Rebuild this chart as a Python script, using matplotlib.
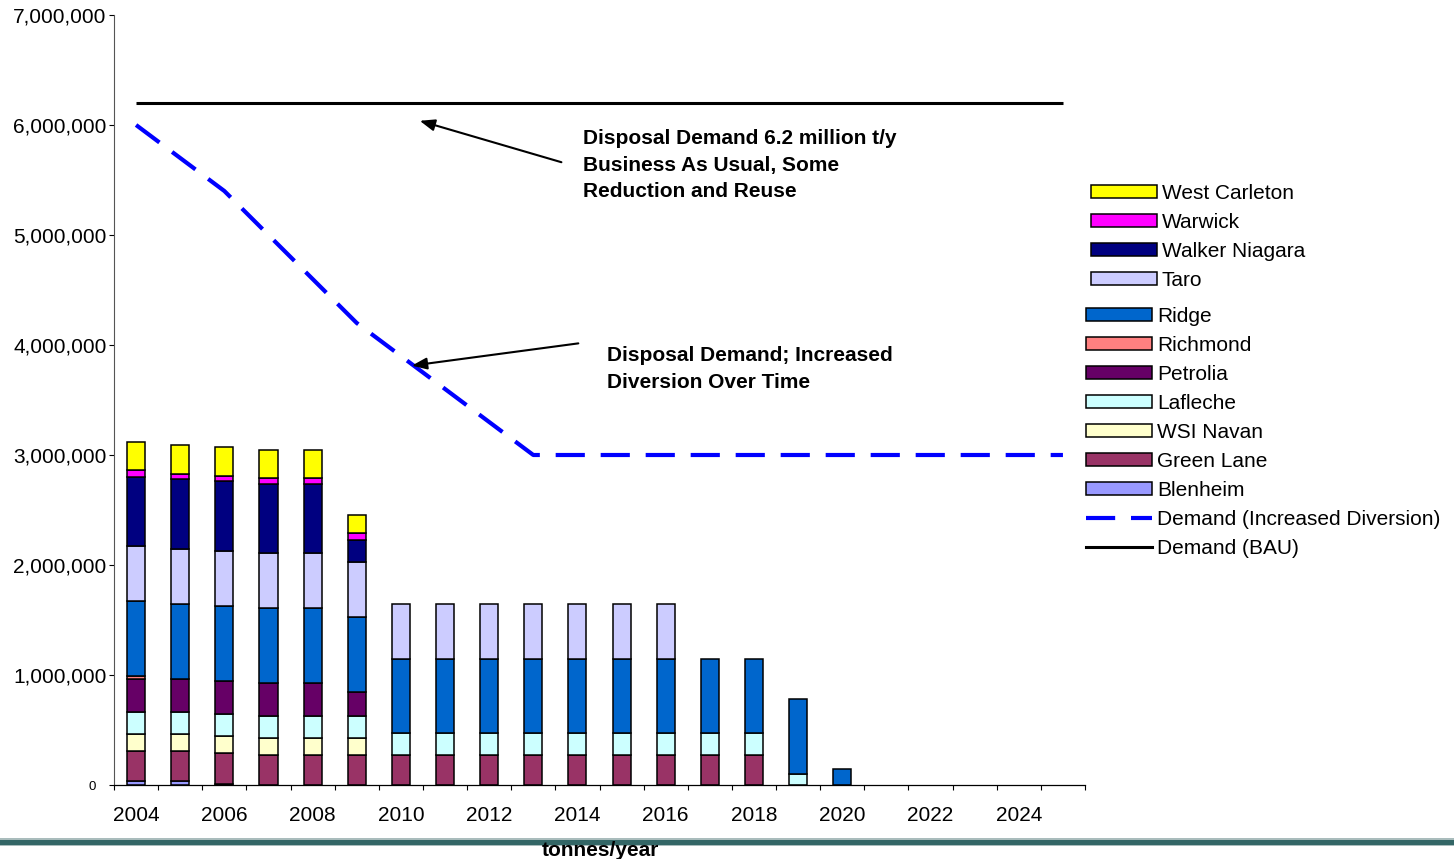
import matplotlib
matplotlib.use('Agg')
import matplotlib.pyplot as plt
import numpy as np
from matplotlib.patches import Patch, Rectangle
from matplotlib.lines import Line2D

plt.rcParams['font.family'] = ['Liberation Sans', 'DejaVu Sans']

# ---------------- data ----------------
years = [2004, 2005, 2006, 2007, 2008, 2009, 2010, 2011, 2012, 2013, 2014,
         2015, 2016, 2017, 2018, 2019, 2020, 2021, 2022, 2023, 2024, 2025]

blenheim      = [40000, 40000, 10000, 0, 0, 0, 0, 0, 0, 0, 0, 0, 0, 0, 0, 0, 0, 0, 0, 0, 0, 0]
green_lane    = [270000, 270000, 280000, 270000, 270000, 270000, 270000, 270000, 270000, 270000, 270000,
                 270000, 270000, 270000, 270000, 0, 0, 0, 0, 0, 0, 0]
wsi_navan     = [155000, 155000, 155000, 155000, 155000, 155000, 0, 0, 0, 0, 0, 0, 0, 0, 0, 0, 0, 0, 0, 0, 0, 0]
lafleche      = [200000, 200000, 200000, 200000, 200000, 200000, 200000, 200000, 200000, 200000, 200000,
                 200000, 200000, 200000, 200000, 100000, 0, 0, 0, 0, 0, 0]
petrolia      = [300000, 300000, 300000, 300000, 300000, 225000, 0, 0, 0, 0, 0, 0, 0, 0, 0, 0, 0, 0, 0, 0, 0, 0]
richmond      = [25000, 0, 0, 0, 0, 0, 0, 0, 0, 0, 0, 0, 0, 0, 0, 0, 0, 0, 0, 0, 0, 0]
ridge         = [680000, 680000, 680000, 680000, 680000, 680000, 680000, 680000, 680000, 680000, 680000,
                 680000, 680000, 680000, 680000, 680000, 145000, 0, 0, 0, 0, 0]
taro          = [500000, 500000, 500000, 500000, 500000, 500000, 500000, 500000, 500000, 500000, 500000,
                 500000, 500000, 0, 0, 0, 0, 0, 0, 0, 0, 0]
walker        = [630000, 636000, 635000, 627000, 627000, 195000, 0, 0, 0, 0, 0, 0, 0, 0, 0, 0, 0, 0, 0, 0, 0, 0]
warwick       = [60000, 50000, 50000, 58000, 58000, 63000, 0, 0, 0, 0, 0, 0, 0, 0, 0, 0, 0, 0, 0, 0, 0, 0]
west_carleton = [260000, 260000, 260000, 260000, 260000, 165000, 0, 0, 0, 0, 0, 0, 0, 0, 0, 0, 0, 0, 0, 0, 0, 0]

demand_diversion = [6000000, 5700000, 5400000, 5000000, 4600000, 4200000, 3900000, 3600000, 3300000,
                    3000000, 3000000, 3000000, 3000000, 3000000, 3000000, 3000000, 3000000, 3000000,
                    3000000, 3000000, 3000000, 3000000]
demand_bau = [6200000, 6200000, 6200000, 6200000, 6200000, 6200000, 6200000, 6200000, 6200000, 6200000,
              6200000, 6200000, 6200000, 6200000, 6200000, 6200000, 6200000, 6200000, 6200000, 6200000,
              6200000, 6200000]

series_names = ['Blenheim', 'Green Lane', 'WSI Navan', 'Lafleche', 'Petrolia', 'Richmond',
                'Ridge', 'Taro', 'Walker Niagara', 'Warwick', 'West Carleton']
series_values = [blenheim, green_lane, wsi_navan, lafleche, petrolia, richmond,
                 ridge, taro, walker, warwick, west_carleton]
series_colors = ['#9999FF', '#993366', '#FFFFCC', '#CCFFFF', '#660066', '#FF8080',
                 '#0066CC', '#CCCCFF', '#000080', '#FF00FF', '#FFFF00']

ytick_values = [0, 1000000, 2000000, 3000000, 4000000, 5000000, 6000000, 7000000]
ytick_labels = ['0', '1,000,000', '2,000,000', '3,000,000', '4,000,000', '5,000,000', '6,000,000', '7,000,000']

note_bau = 'Disposal Demand 6.2 million t/y\nBusiness As Usual, Some\nReduction and Reuse'
note_div = 'Disposal Demand; Increased\nDiversion Over Time'
axis_title = 'tonnes/year'

# ---------------- figure ----------------
W, H = 1454, 859
fig = plt.figure(figsize=(W / 100, H / 100), dpi=100)
ax = fig.add_axes([114 / W, 1 - 785 / H, (1085 - 114) / W, (785 - 15) / H])

x = np.arange(len(years))
bottom = np.zeros(len(years))
for name, vals, col in zip(series_names, series_values, series_colors):
    v = np.array(vals, dtype=float)
    m = v > 0
    ax.bar(x[m], v[m], bottom=bottom[m], width=0.41, color=col, edgecolor='black',
           linewidth=1.1, zorder=2)
    bottom += v

ax.plot(x, demand_bau, color='black', lw=2.2, zorder=3, solid_capstyle='butt')
ax.plot(x, demand_diversion, color='#0000FF', lw=3.0, linestyle=(0, (7, 3.8)),
        zorder=3, dash_capstyle='butt')

ax.set_xlim(-0.5, len(years) - 0.5)
ax.set_ylim(0, 7000000)

ax.set_xticks(x[::2])
ax.set_xticklabels([str(y) for y in years[::2]])
ax.set_xticks(np.arange(-0.5, len(years), 1.0), minor=True)
ax.tick_params(axis='x', which='major', length=0, pad=15, labelsize=15)
ax.tick_params(axis='x', which='minor', length=3.8, width=0.8, direction='out')

ax.set_yticks(ytick_values)
ax.set_yticklabels(ytick_labels)
ax.tick_params(axis='y', length=3.8, width=0.8, pad=1.5, labelsize=15)
t0 = ax.yaxis.get_major_ticks()[0]
t0.label1.set_fontsize(9.5)
t0.set_pad(9)

for s in ['top', 'right']:
    ax.spines[s].set_visible(False)
ax.spines['left'].set_linewidth(0.8)
ax.spines['bottom'].set_linewidth(0.9)
ax.spines['left'].set_color('#555555')

# annotations
def px2data(px, py):
    return ((px - 137) / 44.136, (785 - py) / 110.0 * 1e6)

ax.annotate('', xy=px2data(418, 120), xytext=px2data(565, 163),
            arrowprops=dict(arrowstyle='-|>,head_length=0.9,head_width=0.35', color='black', lw=1.5))
ax.annotate('', xy=px2data(410, 366), xytext=px2data(582, 343),
            arrowprops=dict(arrowstyle='-|>,head_length=0.9,head_width=0.35', color='black', lw=1.5))
tx, ty = px2data(584, 129)
ax.text(tx, ty, note_bau, fontsize=15, fontweight='bold', va='top', ha='left', linespacing=1.5)
tx, ty = px2data(608, 346)
ax.text(tx, ty, note_div, fontsize=15, fontweight='bold', va='top', ha='left', linespacing=1.5)

# legends
patch_handles = {n: Patch(facecolor=c, edgecolor='black', linewidth=1.1)
                 for n, c in zip(series_names, series_colors)}
order1 = ['West Carleton', 'Warwick', 'Walker Niagara', 'Taro']
order2 = ['Ridge', 'Richmond', 'Petrolia', 'Lafleche', 'WSI Navan', 'Green Lane', 'Blenheim']
h2 = [patch_handles[n] for n in order2] + [
    Line2D([], [], color='#0000FF', lw=3.0, linestyle=(0, (7, 3.8)), dash_capstyle='butt'),
    Line2D([], [], color='black', lw=2.2)]
l2 = order2 + ['Demand (Increased Diversion)', 'Demand (BAU)']

common = dict(loc='upper left', bbox_transform=fig.transFigure, frameon=False, fontsize=15,
              handlelength=3.15, handleheight=0.58, handletextpad=0.25, labelspacing=0.48,
              borderpad=0, borderaxespad=0)
leg1 = ax.legend([patch_handles[n] for n in order1], order1,
                 bbox_to_anchor=(1091 / W, 1 - 184 / H), **common)
ax.add_artist(leg1)
leg2 = ax.legend(h2, l2, bbox_to_anchor=(1086 / W, 1 - 307 / H), **common)

# decorative band at bottom
fig.add_artist(Rectangle((0, 1 - 846 / H), 1, 8 / H, transform=fig.transFigure,
                         facecolor='#a9bcbc', edgecolor='none'))
fig.add_artist(Rectangle((0, 1 - 844.5 / H), 1, 5 / H, transform=fig.transFigure,
                         facecolor='#336666', edgecolor='none'))
fig.text(600 / W, 1 - 856 / H, axis_title, fontsize=15, fontweight='bold',
         ha='center', va='baseline')

fig.savefig('out.png', dpi=100)
